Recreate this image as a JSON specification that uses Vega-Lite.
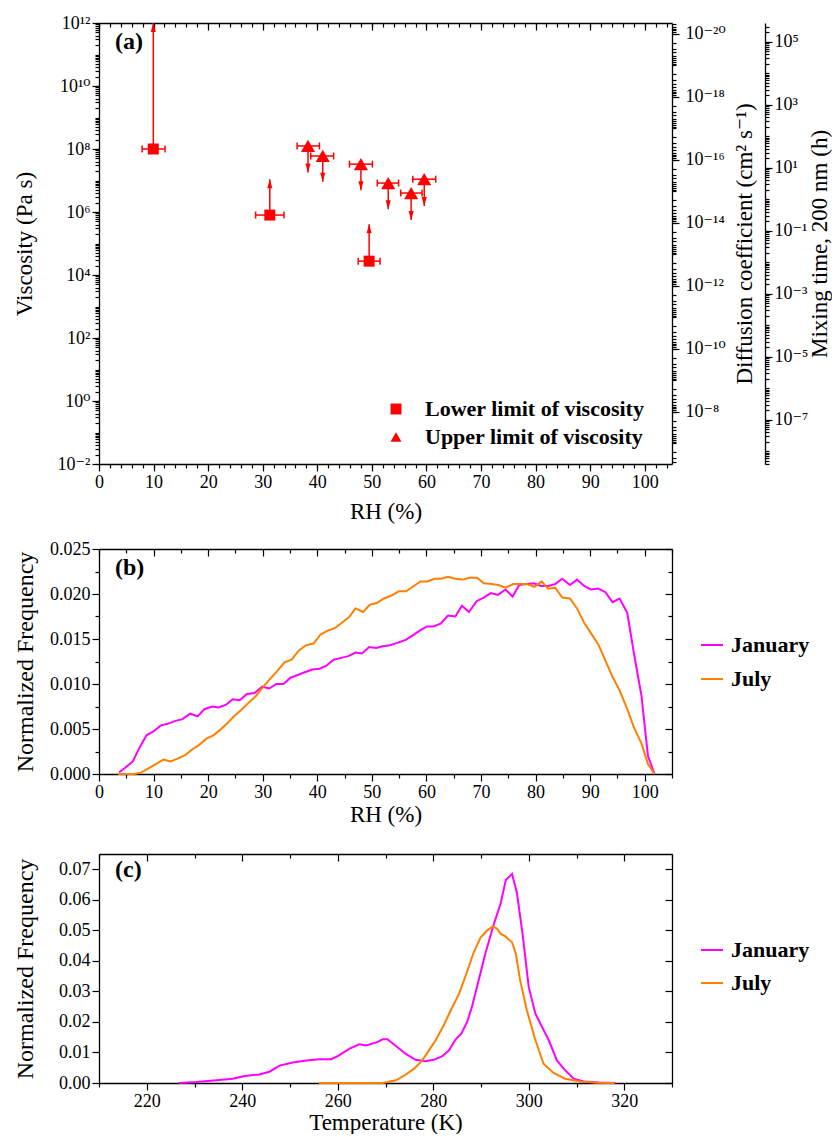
{
  "$schema": "https://vega.github.io/schema/vega-lite/v6.json",
  "padding": {"left": 13, "top": 14, "right": 0, "bottom": 0},
  "spacing": 17,
  "datasets": {
    "visc": [
      {"rh": 9.95, "visc": 1.0e8, "xmin": 7.9, "xmax": 12.1, "lim": 1e12, "type": "Lower limit of viscosity"},
      {"rh": 31.3, "visc": 8.0e5, "xmin": 28.7, "xmax": 33.9, "lim": 1.1e7, "type": "Lower limit of viscosity"},
      {"rh": 49.5, "visc": 2.75e4, "xmin": 47.5, "xmax": 51.5, "lim": 4.1e5, "type": "Lower limit of viscosity"},
      {"rh": 38.3, "visc": 1.25e8, "xmin": 36.3, "xmax": 40.4, "lim": 1.8e7, "type": "Upper limit of viscosity"},
      {"rh": 41.0, "visc": 6.0e7, "xmin": 38.8, "xmax": 43.0, "lim": 9.1e6, "type": "Upper limit of viscosity"},
      {"rh": 48.0, "visc": 3.3e7, "xmin": 45.9, "xmax": 50.1, "lim": 4.9e6, "type": "Upper limit of viscosity"},
      {"rh": 53.0, "visc": 8.3e6, "xmin": 51.0, "xmax": 54.9, "lim": 1.23e6, "type": "Upper limit of viscosity"},
      {"rh": 57.2, "visc": 4.0e6, "xmin": 55.3, "xmax": 59.2, "lim": 5.6e5, "type": "Upper limit of viscosity"},
      {"rh": 59.6, "visc": 1.1e7, "xmin": 57.5, "xmax": 61.7, "lim": 1.55e6, "type": "Upper limit of viscosity"}
    ],
    "rhfreq": [
      {"month": "January", "rh": 3.7, "freq": 0.0002},
      {"month": "January", "rh": 4.8, "freq": 0.0007},
      {"month": "January", "rh": 6.2, "freq": 0.0014},
      {"month": "January", "rh": 7.4, "freq": 0.0029},
      {"month": "January", "rh": 8.7, "freq": 0.0043},
      {"month": "January", "rh": 9.9, "freq": 0.0047},
      {"month": "January", "rh": 11.35, "freq": 0.0054},
      {"month": "January", "rh": 12.7, "freq": 0.0056},
      {"month": "January", "rh": 14.0, "freq": 0.0059},
      {"month": "January", "rh": 15.3, "freq": 0.0061},
      {"month": "January", "rh": 16.7, "freq": 0.0067},
      {"month": "January", "rh": 18.1, "freq": 0.0064},
      {"month": "January", "rh": 19.3, "freq": 0.0072},
      {"month": "January", "rh": 20.7, "freq": 0.0075},
      {"month": "January", "rh": 21.9, "freq": 0.0074},
      {"month": "January", "rh": 23.3, "freq": 0.0077},
      {"month": "January", "rh": 24.5, "freq": 0.0083},
      {"month": "January", "rh": 25.8, "freq": 0.0082},
      {"month": "January", "rh": 27.1, "freq": 0.0089},
      {"month": "January", "rh": 28.5, "freq": 0.0090},
      {"month": "January", "rh": 29.9, "freq": 0.0097},
      {"month": "January", "rh": 31.2, "freq": 0.0095},
      {"month": "January", "rh": 32.5, "freq": 0.0100},
      {"month": "January", "rh": 33.8, "freq": 0.0100},
      {"month": "January", "rh": 35.1, "freq": 0.0107},
      {"month": "January", "rh": 36.4, "freq": 0.0110},
      {"month": "January", "rh": 37.7, "freq": 0.0113},
      {"month": "January", "rh": 39.1, "freq": 0.0116},
      {"month": "January", "rh": 40.4, "freq": 0.0117},
      {"month": "January", "rh": 41.6, "freq": 0.0120},
      {"month": "January", "rh": 43.0, "freq": 0.0127},
      {"month": "January", "rh": 44.4, "freq": 0.0129},
      {"month": "January", "rh": 45.7, "freq": 0.0131},
      {"month": "January", "rh": 47.0, "freq": 0.0135},
      {"month": "January", "rh": 48.2, "freq": 0.0134},
      {"month": "January", "rh": 49.5, "freq": 0.0141},
      {"month": "January", "rh": 50.8, "freq": 0.0140},
      {"month": "January", "rh": 52.0, "freq": 0.0142},
      {"month": "January", "rh": 53.3, "freq": 0.0143},
      {"month": "January", "rh": 54.8, "freq": 0.0146},
      {"month": "January", "rh": 56.2, "freq": 0.0149},
      {"month": "January", "rh": 57.5, "freq": 0.0154},
      {"month": "January", "rh": 58.7, "freq": 0.0159},
      {"month": "January", "rh": 60.1, "freq": 0.0164},
      {"month": "January", "rh": 61.3, "freq": 0.0164},
      {"month": "January", "rh": 62.6, "freq": 0.0167},
      {"month": "January", "rh": 63.95, "freq": 0.0176},
      {"month": "January", "rh": 65.3, "freq": 0.0175},
      {"month": "January", "rh": 66.5, "freq": 0.0187},
      {"month": "January", "rh": 67.8, "freq": 0.0180},
      {"month": "January", "rh": 69.2, "freq": 0.0192},
      {"month": "January", "rh": 70.5, "freq": 0.0196},
      {"month": "January", "rh": 71.8, "freq": 0.0201},
      {"month": "January", "rh": 73.1, "freq": 0.0199},
      {"month": "January", "rh": 74.5, "freq": 0.0205},
      {"month": "January", "rh": 75.8, "freq": 0.0197},
      {"month": "January", "rh": 77.0, "freq": 0.0210},
      {"month": "January", "rh": 78.3, "freq": 0.0211},
      {"month": "January", "rh": 79.7, "freq": 0.0212},
      {"month": "January", "rh": 81.0, "freq": 0.0209},
      {"month": "January", "rh": 82.3, "freq": 0.0209},
      {"month": "January", "rh": 83.6, "freq": 0.0211},
      {"month": "January", "rh": 84.9, "freq": 0.0217},
      {"month": "January", "rh": 86.3, "freq": 0.0210},
      {"month": "January", "rh": 87.6, "freq": 0.0216},
      {"month": "January", "rh": 88.9, "freq": 0.0209},
      {"month": "January", "rh": 90.1, "freq": 0.0205},
      {"month": "January", "rh": 91.5, "freq": 0.0206},
      {"month": "January", "rh": 92.8, "freq": 0.0202},
      {"month": "January", "rh": 94.1, "freq": 0.0191},
      {"month": "January", "rh": 95.4, "freq": 0.0195},
      {"month": "January", "rh": 96.8, "freq": 0.0179},
      {"month": "January", "rh": 98.0, "freq": 0.0135},
      {"month": "January", "rh": 99.4, "freq": 0.0087},
      {"month": "January", "rh": 100.6, "freq": 0.0020},
      {"month": "January", "rh": 101.8, "freq": 0.0000},
      {"month": "July", "rh": 3.5, "freq": 0.0},
      {"month": "July", "rh": 6.5, "freq": 0.0},
      {"month": "July", "rh": 7.7, "freq": 0.00015},
      {"month": "July", "rh": 9.0, "freq": 0.0006},
      {"month": "July", "rh": 10.4, "freq": 0.0011},
      {"month": "July", "rh": 11.8, "freq": 0.0016},
      {"month": "July", "rh": 13.1, "freq": 0.0014},
      {"month": "July", "rh": 14.4, "freq": 0.0017},
      {"month": "July", "rh": 15.8, "freq": 0.0021},
      {"month": "July", "rh": 17.0, "freq": 0.0027},
      {"month": "July", "rh": 18.3, "freq": 0.0032},
      {"month": "July", "rh": 19.6, "freq": 0.0039},
      {"month": "July", "rh": 20.95, "freq": 0.0043},
      {"month": "July", "rh": 22.2, "freq": 0.0049},
      {"month": "July", "rh": 23.6, "freq": 0.0057},
      {"month": "July", "rh": 24.9, "freq": 0.0065},
      {"month": "July", "rh": 26.2, "freq": 0.0072},
      {"month": "July", "rh": 27.4, "freq": 0.0079},
      {"month": "July", "rh": 28.8, "freq": 0.0087},
      {"month": "July", "rh": 30.1, "freq": 0.0097},
      {"month": "July", "rh": 31.4, "freq": 0.0106},
      {"month": "July", "rh": 32.6, "freq": 0.0114},
      {"month": "July", "rh": 34.0, "freq": 0.0124},
      {"month": "July", "rh": 35.3, "freq": 0.0127},
      {"month": "July", "rh": 36.6, "freq": 0.0137},
      {"month": "July", "rh": 37.9, "freq": 0.0143},
      {"month": "July", "rh": 39.3, "freq": 0.0145},
      {"month": "July", "rh": 40.6, "freq": 0.0155},
      {"month": "July", "rh": 41.8, "freq": 0.0159},
      {"month": "July", "rh": 43.2, "freq": 0.0162},
      {"month": "July", "rh": 44.5, "freq": 0.0168},
      {"month": "July", "rh": 45.8, "freq": 0.0174},
      {"month": "July", "rh": 47.0, "freq": 0.0184},
      {"month": "July", "rh": 48.4, "freq": 0.0180},
      {"month": "July", "rh": 49.6, "freq": 0.0188},
      {"month": "July", "rh": 50.9, "freq": 0.0190},
      {"month": "July", "rh": 52.2, "freq": 0.0195},
      {"month": "July", "rh": 53.5, "freq": 0.0198},
      {"month": "July", "rh": 54.95, "freq": 0.0203},
      {"month": "July", "rh": 56.3, "freq": 0.0203},
      {"month": "July", "rh": 57.5, "freq": 0.0208},
      {"month": "July", "rh": 58.9, "freq": 0.0214},
      {"month": "July", "rh": 60.2, "freq": 0.0214},
      {"month": "July", "rh": 61.5, "freq": 0.0217},
      {"month": "July", "rh": 62.7, "freq": 0.0217},
      {"month": "July", "rh": 63.95, "freq": 0.0219},
      {"month": "July", "rh": 65.3, "freq": 0.0217},
      {"month": "July", "rh": 66.6, "freq": 0.0216},
      {"month": "July", "rh": 67.9, "freq": 0.0218},
      {"month": "July", "rh": 69.3, "freq": 0.0218},
      {"month": "July", "rh": 70.5, "freq": 0.0212},
      {"month": "July", "rh": 71.9, "freq": 0.0211},
      {"month": "July", "rh": 73.2, "freq": 0.0210},
      {"month": "July", "rh": 74.5, "freq": 0.0207},
      {"month": "July", "rh": 75.9, "freq": 0.0211},
      {"month": "July", "rh": 77.1, "freq": 0.0211},
      {"month": "July", "rh": 78.4, "freq": 0.0211},
      {"month": "July", "rh": 79.8, "freq": 0.0208},
      {"month": "July", "rh": 81.1, "freq": 0.0214},
      {"month": "July", "rh": 82.3, "freq": 0.0206},
      {"month": "July", "rh": 83.6, "freq": 0.0207},
      {"month": "July", "rh": 84.9, "freq": 0.0196},
      {"month": "July", "rh": 86.3, "freq": 0.0195},
      {"month": "July", "rh": 87.6, "freq": 0.0184},
      {"month": "July", "rh": 88.9, "freq": 0.0168},
      {"month": "July", "rh": 90.2, "freq": 0.0156},
      {"month": "July", "rh": 91.5, "freq": 0.0144},
      {"month": "July", "rh": 92.8, "freq": 0.0126},
      {"month": "July", "rh": 94.1, "freq": 0.0108},
      {"month": "July", "rh": 95.4, "freq": 0.0093},
      {"month": "July", "rh": 96.8, "freq": 0.0072},
      {"month": "July", "rh": 98.0, "freq": 0.0052},
      {"month": "July", "rh": 99.4, "freq": 0.0034},
      {"month": "July", "rh": 100.6, "freq": 0.0011},
      {"month": "July", "rh": 101.8, "freq": 0.0}
    ],
    "tfreq": [
      {"month": "January", "t": 226.8, "freq": 0.0},
      {"month": "January", "t": 230.4, "freq": 0.0003},
      {"month": "January", "t": 234.6, "freq": 0.0009},
      {"month": "January", "t": 238.0, "freq": 0.0014},
      {"month": "January", "t": 240.5, "freq": 0.0023},
      {"month": "January", "t": 243.6, "freq": 0.0028},
      {"month": "January", "t": 245.7, "freq": 0.0037},
      {"month": "January", "t": 247.8, "freq": 0.0057},
      {"month": "January", "t": 250.6, "freq": 0.0067},
      {"month": "January", "t": 253.4, "freq": 0.0074},
      {"month": "January", "t": 256.1, "freq": 0.0078},
      {"month": "January", "t": 258.6, "freq": 0.0078},
      {"month": "January", "t": 260.0, "freq": 0.0088},
      {"month": "January", "t": 262.4, "freq": 0.0112},
      {"month": "January", "t": 264.5, "freq": 0.0127},
      {"month": "January", "t": 265.9, "freq": 0.0123},
      {"month": "January", "t": 268.3, "freq": 0.0134},
      {"month": "January", "t": 269.4, "freq": 0.0143},
      {"month": "January", "t": 270.4, "freq": 0.0143},
      {"month": "January", "t": 272.2, "freq": 0.0121},
      {"month": "January", "t": 274.2, "freq": 0.0096},
      {"month": "January", "t": 276.3, "freq": 0.0076},
      {"month": "January", "t": 278.4, "freq": 0.0071},
      {"month": "January", "t": 280.1, "freq": 0.0076},
      {"month": "January", "t": 281.9, "freq": 0.0088},
      {"month": "January", "t": 283.3, "freq": 0.0107},
      {"month": "January", "t": 284.7, "freq": 0.0143},
      {"month": "January", "t": 285.9, "freq": 0.0162},
      {"month": "January", "t": 287.1, "freq": 0.0200},
      {"month": "January", "t": 288.1, "freq": 0.0249},
      {"month": "January", "t": 289.5, "freq": 0.0336},
      {"month": "January", "t": 290.9, "freq": 0.0423},
      {"month": "January", "t": 292.7, "freq": 0.0521},
      {"month": "January", "t": 294.1, "freq": 0.0587},
      {"month": "January", "t": 295.2, "freq": 0.0665},
      {"month": "January", "t": 296.5, "freq": 0.0685},
      {"month": "January", "t": 297.5, "freq": 0.0625},
      {"month": "January", "t": 298.7, "freq": 0.0489},
      {"month": "January", "t": 300.0, "freq": 0.0314},
      {"month": "January", "t": 301.4, "freq": 0.0227},
      {"month": "January", "t": 302.8, "freq": 0.0183},
      {"month": "January", "t": 304.2, "freq": 0.0140},
      {"month": "January", "t": 305.9, "freq": 0.0074},
      {"month": "January", "t": 307.6, "freq": 0.0042},
      {"month": "January", "t": 309.4, "freq": 0.0014},
      {"month": "January", "t": 311.5, "freq": 0.0005},
      {"month": "January", "t": 314.6, "freq": 0.0002},
      {"month": "January", "t": 318.1, "freq": 0.0},
      {"month": "July", "t": 256.0, "freq": 0.0},
      {"month": "July", "t": 269.4, "freq": 0.0},
      {"month": "July", "t": 272.2, "freq": 0.0009},
      {"month": "July", "t": 274.2, "freq": 0.0027},
      {"month": "July", "t": 276.0, "freq": 0.0047},
      {"month": "July", "t": 277.7, "freq": 0.0074},
      {"month": "July", "t": 279.1, "freq": 0.0107},
      {"month": "July", "t": 280.5, "freq": 0.0140},
      {"month": "July", "t": 282.2, "freq": 0.0189},
      {"month": "July", "t": 284.0, "freq": 0.0249},
      {"month": "July", "t": 285.4, "freq": 0.0292},
      {"month": "July", "t": 286.8, "freq": 0.0352},
      {"month": "July", "t": 288.5, "freq": 0.0429},
      {"month": "July", "t": 289.9, "freq": 0.0476},
      {"month": "July", "t": 291.3, "freq": 0.0500},
      {"month": "July", "t": 292.5, "freq": 0.0513},
      {"month": "July", "t": 293.4, "freq": 0.0505},
      {"month": "July", "t": 294.1, "freq": 0.0489},
      {"month": "July", "t": 295.1, "freq": 0.0480},
      {"month": "July", "t": 296.5, "freq": 0.0461},
      {"month": "July", "t": 297.3, "freq": 0.0423},
      {"month": "July", "t": 298.2, "freq": 0.0336},
      {"month": "July", "t": 299.6, "freq": 0.0238},
      {"month": "July", "t": 301.4, "freq": 0.0140},
      {"month": "July", "t": 303.1, "freq": 0.0063},
      {"month": "July", "t": 305.2, "freq": 0.0033},
      {"month": "July", "t": 307.6, "freq": 0.0014},
      {"month": "July", "t": 310.8, "freq": 0.0005},
      {"month": "July", "t": 314.6, "freq": 0.0001},
      {"month": "July", "t": 317.9, "freq": 0.0}
    ]
  },
  "vconcat": [
    {
      "width": 573,
      "height": 441,
      "title": {"text": "(a)", "offset": -40, "dx": 16, "frame": "group"},
      "data": {"name": "visc"},
      "layer": [
        {
          "mark": {"type": "rule", "color": "#ff0000", "strokeWidth": 1.5},
          "encoding": {
            "x": {"field": "rh", "type": "quantitative", "scale": {"domain": [0, 105], "nice": false, "zero": false}, "axis": null},
            "y": {"field": "visc", "type": "quantitative", "scale": {"type": "log", "domain": [0.01, 1e12], "nice": false}, "axis": null},
            "y2": {"field": "lim"}
          }
        },
        {
          "mark": {"type": "rule", "color": "#ff0000", "strokeWidth": 1.5},
          "encoding": {
            "x": {"field": "xmin", "type": "quantitative", "scale": {"domain": [0, 105], "nice": false, "zero": false}, "axis": null},
            "x2": {"field": "xmax"},
            "y": {"field": "visc", "type": "quantitative", "scale": {"type": "log", "domain": [0.01, 1e12], "nice": false}, "axis": null}
          }
        },
        {
          "mark": {"type": "point", "shape": "M0,-1L0,1", "filled": false, "stroke": "#ff0000", "strokeWidth": 1.5, "size": 49, "opacity": 1},
          "encoding": {
            "x": {"field": "xmin", "type": "quantitative", "scale": {"domain": [0, 105], "nice": false, "zero": false}, "axis": null},
            "y": {"field": "visc", "type": "quantitative", "scale": {"type": "log", "domain": [0.01, 1e12], "nice": false}, "axis": null}
          }
        },
        {
          "mark": {"type": "point", "shape": "M0,-1L0,1", "filled": false, "stroke": "#ff0000", "strokeWidth": 1.5, "size": 49, "opacity": 1},
          "encoding": {
            "x": {"field": "xmax", "type": "quantitative", "scale": {"domain": [0, 105], "nice": false, "zero": false}, "axis": null},
            "y": {"field": "visc", "type": "quantitative", "scale": {"type": "log", "domain": [0.01, 1e12], "nice": false}, "axis": null}
          }
        },
        {
          "transform": [{"filter": "datum.type == 'Lower limit of viscosity'"}],
          "mark": {"type": "point", "shape": "M0,0L-0.85,3L0.85,3Z", "filled": true, "fill": "#ff0000", "strokeWidth": 0, "size": 36, "opacity": 1},
          "encoding": {
            "x": {"field": "rh", "type": "quantitative", "scale": {"domain": [0, 105], "nice": false, "zero": false}, "axis": null},
            "y": {"field": "lim", "type": "quantitative", "scale": {"type": "log", "domain": [0.01, 1e12], "nice": false}, "axis": null}
          }
        },
        {
          "transform": [{"filter": "datum.type == 'Upper limit of viscosity'"}],
          "mark": {"type": "point", "shape": "M0,0L-0.85,-3L0.85,-3Z", "filled": true, "fill": "#ff0000", "strokeWidth": 0, "size": 36, "opacity": 1},
          "encoding": {
            "x": {"field": "rh", "type": "quantitative", "scale": {"domain": [0, 105], "nice": false, "zero": false}, "axis": null},
            "y": {"field": "lim", "type": "quantitative", "scale": {"type": "log", "domain": [0.01, 1e12], "nice": false}, "axis": null}
          }
        },
        {
          "mark": {"type": "point", "filled": true, "color": "#ff0000", "opacity": 1, "strokeWidth": 0},
          "encoding": {
            "x": {"field": "rh", "type": "quantitative", "scale": {"domain": [0, 105], "nice": false, "zero": false},
              "axis": {"orient": "bottom", "values": [0, 10, 20, 30, 40, 50, 60, 70, 80, 90, 100], "tickSize": 7, "title": "RH (%)", "titlePadding": 9,
                "labelFont": "Liberation Serif, DejaVu Serif", "titleFont": "Liberation Serif"}},
            "y": {"field": "visc", "type": "quantitative", "scale": {"type": "log", "domain": [0.01, 1e12], "nice": false},
              "axis": {"orient": "left", "values": [0.01, 1, 100, 10000, 1000000, 100000000, 10000000000, 1000000000000],
                "labelExpr": "'10' + (round(log(datum.value)/LN10) < 0 ? '⁻' : '') + (abs(round(log(datum.value)/LN10)) >= 10 ? substring('⁰¹²³⁴⁵⁶⁷⁸⁹', floor(abs(round(log(datum.value)/LN10))/10), floor(abs(round(log(datum.value)/LN10))/10) + 1) : '') + substring('⁰¹²³⁴⁵⁶⁷⁸⁹', abs(round(log(datum.value)/LN10)) % 10, abs(round(log(datum.value)/LN10)) % 10 + 1)",
                "tickSize": 7, "title": "Viscosity (Pa s)", "titlePadding": 21,
                "labelFont": "Liberation Serif, DejaVu Serif", "titleFont": "Liberation Serif"}},
            "shape": {"field": "type", "type": "nominal",
              "scale": {"domain": ["Lower limit of viscosity", "Upper limit of viscosity"], "range": ["square", "triangle-up"]},
              "legend": {"title": null, "orient": "none", "legendX": 286, "legendY": 375, "symbolSize": 120, "labelOffset": 18, "rowPadding": 6, "labelLimit": 500, "symbolFillColor": "#ff0000", "symbolStrokeWidth": 0}},
            "size": {"condition": {"test": "datum.type == 'Lower limit of viscosity'", "value": 121}, "value": 200}
          }
        },
        {
          "mark": {"type": "point", "opacity": 0},
          "encoding": {
            "x": {"field": "rh", "type": "quantitative", "scale": {"domain": [0, 105], "nice": false, "zero": false},
              "axis": {"orient": "bottom", "values": [0, 2, 4, 6, 8, 10, 12, 14, 16, 18, 20, 22, 24, 26, 28, 30, 32, 34, 36, 38, 40, 42, 44, 46, 48, 50, 52, 54, 56, 58, 60, 62, 64, 66, 68, 70, 72, 74, 76, 78, 80, 82, 84, 86, 88, 90, 92, 94, 96, 98, 100, 102, 104], "tickSize": 4, "labels": false, "domain": false, "title": null}},
            "y": {"field": "visc", "type": "quantitative", "scale": {"type": "log", "domain": [0.01, 1e12], "nice": false},
              "axis": {"orient": "left", "tickCount": 200, "tickSize": 4, "labels": false, "domain": false, "title": null}}
          }
        },
        {
          "mark": {"type": "point", "opacity": 0},
          "encoding": {
            "x": {"field": "rh", "type": "quantitative", "scale": {"domain": [0, 105], "nice": false, "zero": false},
              "axis": {"orient": "top", "values": [0, 10, 20, 30, 40, 50, 60, 70, 80, 90, 100], "tickSize": -7, "labels": false, "title": null}},
            "y": {"field": "visc", "type": "quantitative", "scale": {"type": "log", "domain": [0.01, 1e12], "nice": false}, "axis": null}
          }
        },
        {
          "mark": {"type": "point", "opacity": 0},
          "encoding": {
            "x": {"field": "rh", "type": "quantitative", "scale": {"domain": [0, 105], "nice": false, "zero": false},
              "axis": {"orient": "top", "values": [0, 2, 4, 6, 8, 10, 12, 14, 16, 18, 20, 22, 24, 26, 28, 30, 32, 34, 36, 38, 40, 42, 44, 46, 48, 50, 52, 54, 56, 58, 60, 62, 64, 66, 68, 70, 72, 74, 76, 78, 80, 82, 84, 86, 88, 90, 92, 94, 96, 98, 100, 102, 104], "tickSize": -4, "labels": false, "domain": false, "title": null}},
            "y": {"field": "visc", "type": "quantitative", "scale": {"type": "log", "domain": [0.01, 1e12], "nice": false}, "axis": null}
          }
        },
        {
          "mark": {"type": "point", "opacity": 0},
          "encoding": {
            "x": {"field": "rh", "type": "quantitative", "scale": {"domain": [0, 105], "nice": false, "zero": false}, "axis": null},
            "y": {"datum": 1e-14, "type": "quantitative", "scale": {"type": "log", "domain": [4.64e-21, 4.64e-7], "reverse": true, "nice": false},
              "axis": {"orient": "right", "values": [1e-20, 1e-18, 1e-16, 1e-14, 1e-12, 1e-10, 1e-8],
                "labelExpr": "'10' + (round(log(datum.value)/LN10) < 0 ? '⁻' : '') + (abs(round(log(datum.value)/LN10)) >= 10 ? substring('⁰¹²³⁴⁵⁶⁷⁸⁹', floor(abs(round(log(datum.value)/LN10))/10), floor(abs(round(log(datum.value)/LN10))/10) + 1) : '') + substring('⁰¹²³⁴⁵⁶⁷⁸⁹', abs(round(log(datum.value)/LN10)) % 10, abs(round(log(datum.value)/LN10)) % 10 + 1)",
                "tickSize": 7, "labelPadding": 6, "title": "Diffusion coefficient (cm² s⁻¹)", "titleAngle": 270, "titleBaseline": "top", "titlePadding": 8,
                "labelFont": "Liberation Serif, DejaVu Serif", "titleFont": "Liberation Serif, DejaVu Serif"}}
          }
        },
        {
          "mark": {"type": "point", "opacity": 0},
          "encoding": {
            "x": {"field": "rh", "type": "quantitative", "scale": {"domain": [0, 105], "nice": false, "zero": false}, "axis": null},
            "y": {"datum": 1e-14, "type": "quantitative", "scale": {"type": "log", "domain": [4.64e-21, 4.64e-7], "reverse": true, "nice": false},
              "axis": {"orient": "right", "tickCount": 200, "tickSize": 4, "labels": false, "domain": false, "title": null}}
          }
        },
        {
          "mark": {"type": "point", "opacity": 0},
          "encoding": {
            "x": {"field": "rh", "type": "quantitative", "scale": {"domain": [0, 105], "nice": false, "zero": false}, "axis": null},
            "y": {"datum": 1, "type": "quantitative", "scale": {"type": "log", "domain": [3.93e-9, 3.93e5], "nice": false},
              "axis": {"orient": "right", "offset": 93, "values": [1e-7, 1e-5, 0.001, 0.1, 10, 1000, 100000],
                "labelExpr": "'10' + (round(log(datum.value)/LN10) < 0 ? '⁻' : '') + (abs(round(log(datum.value)/LN10)) >= 10 ? substring('⁰¹²³⁴⁵⁶⁷⁸⁹', floor(abs(round(log(datum.value)/LN10))/10), floor(abs(round(log(datum.value)/LN10))/10) + 1) : '') + substring('⁰¹²³⁴⁵⁶⁷⁸⁹', abs(round(log(datum.value)/LN10)) % 10, abs(round(log(datum.value)/LN10)) % 10 + 1)",
                "tickSize": 7, "title": "Mixing time, 200 nm (h)", "titleAngle": 270, "titleBaseline": "top", "titlePadding": 1,
                "labelFont": "Liberation Serif, DejaVu Serif", "titleFont": "Liberation Serif"}}
          }
        },
        {
          "mark": {"type": "point", "opacity": 0},
          "encoding": {
            "x": {"field": "rh", "type": "quantitative", "scale": {"domain": [0, 105], "nice": false, "zero": false}, "axis": null},
            "y": {"datum": 1, "type": "quantitative", "scale": {"type": "log", "domain": [3.93e-9, 3.93e5], "nice": false},
              "axis": {"orient": "right", "offset": 93, "tickCount": 200, "tickSize": 4, "labels": false, "domain": false, "title": null}}
          }
        }
      ],
      "resolve": {"scale": {"y": "independent"}, "axis": {"x": "independent", "y": "independent"}}
    },
    {
      "width": 573,
      "height": 225,
      "title": {"text": "(b)", "offset": -40, "dx": 16, "frame": "group"},
      "data": {"name": "rhfreq"},
      "layer": [
        {
          "mark": {"type": "line", "strokeWidth": 2},
          "encoding": {
            "x": {"field": "rh", "type": "quantitative", "scale": {"domain": [0, 105], "nice": false, "zero": false},
              "axis": {"orient": "bottom", "values": [0, 10, 20, 30, 40, 50, 60, 70, 80, 90, 100], "tickSize": 7, "title": "RH (%)", "titlePadding": 2,
                "labelFont": "Liberation Serif", "titleFont": "Liberation Serif"}},
            "y": {"field": "freq", "type": "quantitative", "scale": {"domain": [0, 0.025], "nice": false, "zero": false},
              "axis": {"orient": "left", "values": [0, 0.005, 0.01, 0.015, 0.02, 0.025], "format": ".3f", "tickSize": 7, "title": "Normalized Frequency", "titlePadding": 12, "titleFontSize": 24,
                "labelFont": "Liberation Serif", "titleFont": "Liberation Serif"}},
            "color": {"field": "month", "type": "nominal", "scale": {"domain": ["January", "July"], "range": ["#ff00ff", "#ff8000"]},
              "legend": {"title": null, "orient": "none", "legendX": 601, "legendY": 84, "symbolType": "stroke", "symbolSize": 484, "symbolStrokeWidth": 2, "labelOffset": 7, "rowPadding": 11, "labelLimit": 300}}
          }
        },
        {
          "mark": {"type": "point", "opacity": 0},
          "encoding": {
            "x": {"field": "rh", "type": "quantitative", "scale": {"domain": [0, 105], "nice": false, "zero": false},
              "axis": {"orient": "bottom", "values": [5, 15, 25, 35, 45, 55, 65, 75, 85, 95, 105], "tickSize": 4, "labels": false, "domain": false, "title": null}},
            "y": {"field": "freq", "type": "quantitative", "scale": {"domain": [0, 0.025], "nice": false, "zero": false},
              "axis": {"orient": "left", "values": [0.0025, 0.0075, 0.0125, 0.0175, 0.0225], "tickSize": 4, "labels": false, "domain": false, "title": null}}
          }
        },
        {
          "mark": {"type": "point", "opacity": 0},
          "encoding": {
            "x": {"field": "rh", "type": "quantitative", "scale": {"domain": [0, 105], "nice": false, "zero": false},
              "axis": {"orient": "top", "values": [0, 10, 20, 30, 40, 50, 60, 70, 80, 90, 100], "tickSize": -7, "labels": false, "title": null}},
            "y": {"field": "freq", "type": "quantitative", "scale": {"domain": [0, 0.025], "nice": false, "zero": false},
              "axis": {"orient": "right", "values": [0, 0.005, 0.01, 0.015, 0.02, 0.025], "tickSize": -7, "labels": false, "title": null}}
          }
        },
        {
          "mark": {"type": "point", "opacity": 0},
          "encoding": {
            "x": {"field": "rh", "type": "quantitative", "scale": {"domain": [0, 105], "nice": false, "zero": false},
              "axis": {"orient": "top", "values": [5, 15, 25, 35, 45, 55, 65, 75, 85, 95, 105], "tickSize": -4, "labels": false, "domain": false, "title": null}},
            "y": {"field": "freq", "type": "quantitative", "scale": {"domain": [0, 0.025], "nice": false, "zero": false},
              "axis": {"orient": "right", "values": [0.0025, 0.0075, 0.0125, 0.0175, 0.0225], "tickSize": -4, "labels": false, "domain": false, "title": null}}
          }
        }
      ],
      "resolve": {"axis": {"x": "independent", "y": "independent"}}
    },
    {
      "width": 573,
      "height": 229,
      "title": {"text": "(c)", "offset": -39, "dx": 16, "frame": "group"},
      "data": {"name": "tfreq"},
      "layer": [
        {
          "mark": {"type": "line", "strokeWidth": 2},
          "encoding": {
            "x": {"field": "t", "type": "quantitative", "scale": {"domain": [210, 330], "nice": false, "zero": false},
              "axis": {"orient": "bottom", "values": [220, 240, 260, 280, 300, 320], "tickSize": 7, "title": "Temperature (K)", "titlePadding": 1,
                "labelFont": "Liberation Serif", "titleFont": "Liberation Serif"}},
            "y": {"field": "freq", "type": "quantitative", "scale": {"domain": [0, 0.075], "nice": false, "zero": false},
              "axis": {"orient": "left", "values": [0, 0.01, 0.02, 0.03, 0.04, 0.05, 0.06, 0.07], "format": ".2f", "tickSize": 7, "title": "Normalized Frequency", "titlePadding": 21, "titleFontSize": 24,
                "labelFont": "Liberation Serif", "titleFont": "Liberation Serif"}},
            "color": {"field": "month", "type": "nominal", "scale": {"domain": ["January", "July"], "range": ["#ff00ff", "#ff8000"]},
              "legend": {"title": null, "orient": "none", "legendX": 601, "legendY": 84, "symbolType": "stroke", "symbolSize": 484, "symbolStrokeWidth": 2, "labelOffset": 7, "rowPadding": 10, "labelLimit": 300}}
          }
        },
        {
          "mark": {"type": "point", "opacity": 0},
          "encoding": {
            "x": {"field": "t", "type": "quantitative", "scale": {"domain": [210, 330], "nice": false, "zero": false},
              "axis": {"orient": "bottom", "values": [210, 230, 250, 270, 290, 310, 330], "tickSize": 4, "labels": false, "domain": false, "title": null}},
            "y": {"field": "freq", "type": "quantitative", "scale": {"domain": [0, 0.075], "nice": false, "zero": false}, "axis": null}
          }
        },
        {
          "mark": {"type": "point", "opacity": 0},
          "encoding": {
            "x": {"field": "t", "type": "quantitative", "scale": {"domain": [210, 330], "nice": false, "zero": false},
              "axis": {"orient": "top", "values": [220, 240, 260, 280, 300, 320], "tickSize": -7, "labels": false, "title": null, "minExtent": 11}},
            "y": {"field": "freq", "type": "quantitative", "scale": {"domain": [0, 0.075], "nice": false, "zero": false},
              "axis": {"orient": "right", "values": [0, 0.01, 0.02, 0.03, 0.04, 0.05, 0.06, 0.07], "tickSize": -7, "labels": false, "title": null}}
          }
        },
        {
          "mark": {"type": "point", "opacity": 0},
          "encoding": {
            "x": {"field": "t", "type": "quantitative", "scale": {"domain": [210, 330], "nice": false, "zero": false},
              "axis": {"orient": "top", "values": [210, 230, 250, 270, 290, 310, 330], "tickSize": -4, "labels": false, "domain": false, "title": null}},
            "y": {"field": "freq", "type": "quantitative", "scale": {"domain": [0, 0.075], "nice": false, "zero": false}, "axis": null}
          }
        }
      ],
      "resolve": {"axis": {"x": "independent", "y": "independent"}}
    }
  ],
  "resolve": {"scale": {"color": "independent", "shape": "independent"}, "legend": {"color": "independent", "shape": "independent"}},
  "config": {
    "font": "Liberation Serif",
    "view": {"stroke": null},
    "axis": {
      "labelFont": "Liberation Serif", "labelFontSize": 18, "labelColor": "black",
      "titleFont": "Liberation Serif", "titleFontSize": 23, "titleFontWeight": "normal", "titleColor": "black",
      "domainColor": "black", "domainWidth": 1.3, "tickColor": "black", "tickWidth": 1.2,
      "grid": false, "labelPadding": 2, "labelFlush": false, "labelOverlap": false, "labelBound": false
    },
    "legend": {"labelFont": "Liberation Serif", "labelFontSize": 22, "labelFontWeight": "bold", "labelColor": "black", "padding": 0},
    "title": {"font": "Liberation Serif", "fontSize": 24, "fontWeight": "bold", "color": "black", "anchor": "start"}
  }
}
